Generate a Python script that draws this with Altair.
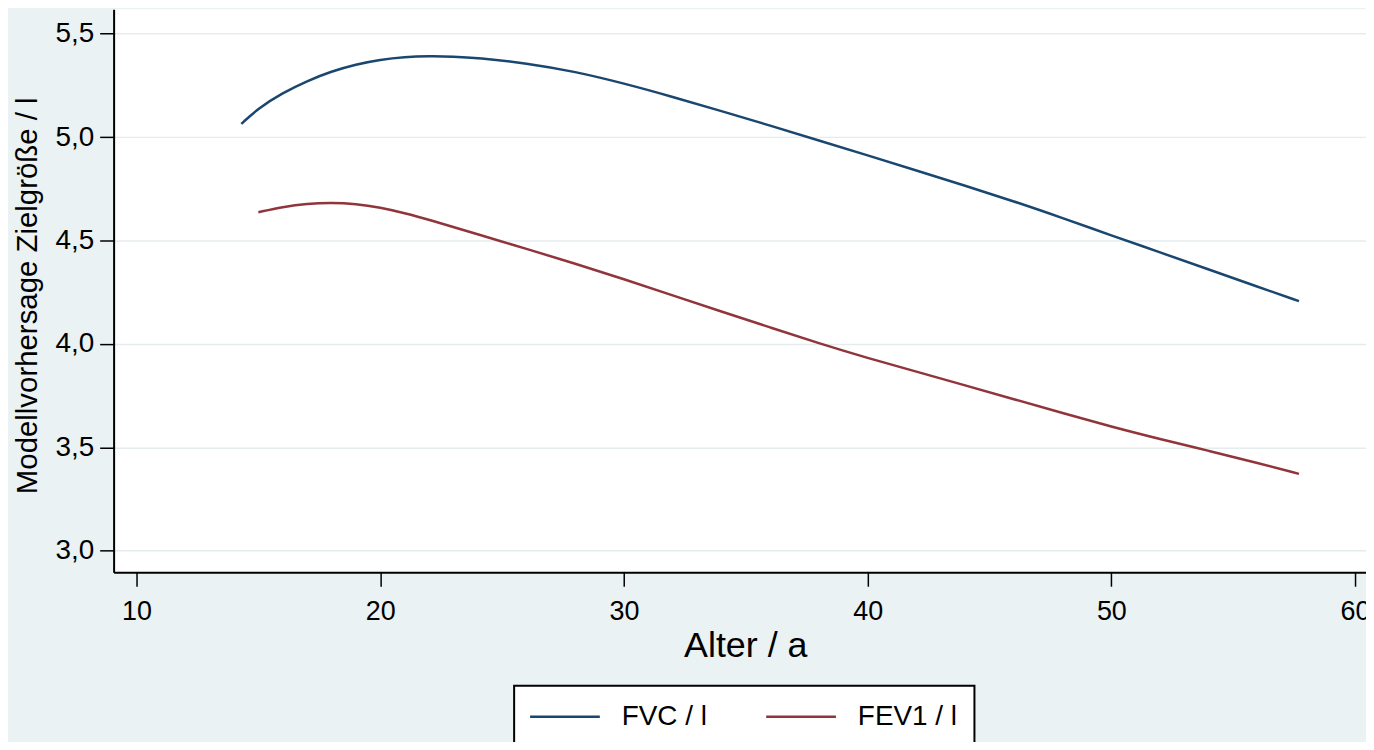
import altair as alt
import pandas as pd

# FVC / l  (model prediction vs. age)
fvc_age = [14.3, 15, 16, 17, 18, 19, 20, 21, 22, 23, 24, 26, 28, 30, 32, 34, 36, 38, 40,
           42, 44, 46, 48, 50, 52, 54, 56, 57.7]
fvc_val = [5.064, 5.140, 5.214, 5.272, 5.318, 5.352, 5.375, 5.388, 5.392, 5.390, 5.383,
           5.358, 5.317, 5.260, 5.195, 5.126, 5.056, 4.984, 4.912, 4.839, 4.765, 4.690,
           4.609, 4.525, 4.443, 4.360, 4.277, 4.207]

# FEV1 / l
fev1_age = [15.0, 16, 17, 18, 19, 20, 21, 22, 24, 26, 28, 30, 32, 34, 36, 38, 40, 42, 44,
            46, 48, 50, 52, 54, 56, 57.7]
fev1_val = [4.637, 4.663, 4.679, 4.684, 4.678, 4.660, 4.633, 4.601, 4.530, 4.460, 4.389,
            4.313, 4.235, 4.157, 4.080, 4.003, 3.932, 3.866, 3.800, 3.733, 3.666, 3.600,
            3.540, 3.483, 3.425, 3.372]

series = ["FVC / l", "FEV1 / l"]
colors = ["#1A476F", "#90353B"]
x_ticks = [10, 20, 30, 40, 50, 60]
y_ticks = [3.0, 3.5, 4.0, 4.5, 5.0, 5.5]

df = pd.concat([
    pd.DataFrame({"age": fvc_age, "value": fvc_val, "series": series[0]}),
    pd.DataFrame({"age": fev1_age, "value": fev1_val, "series": series[1]}),
])

FONT = "Liberation Sans"

chart = alt.Chart(df).mark_line(strokeWidth=2.5, interpolate="basis").encode(
    x=alt.X("age:Q",
            scale=alt.Scale(domain=[9.06, 60.45], nice=False, zero=False),
            axis=alt.Axis(values=x_ticks, grid=False, domainColor="black", domainWidth=2,
                          tickColor="black", tickWidth=1.5, tickSize=14,
                          labelFont=FONT, labelFontSize=27, labelColor="black",
                          labelPadding=12, labelFlush=False,
                          title="Alter / a", titleFont=FONT, titleFontSize=36,
                          titleFontWeight="normal", titleColor="black",
                          titleX=634, titleY=85, titleBaseline="alphabetic")),
    y=alt.Y("value:Q",
            scale=alt.Scale(domain=[2.896, 5.618], nice=False, zero=False),
            axis=alt.Axis(values=y_ticks, domainColor="black", domainWidth=2,
                          tickColor="black", tickWidth=1.5, tickSize=14,
                          labelFont=FONT, labelFontSize=28, labelColor="black",
                          labelPadding=6,
                          labelExpr="replace(format(datum.value, '.1f'), '.', ',')",
                          grid=True, gridColor="#e4ecee", gridWidth=1.5,
                          title="Modellvorhersage Zielgröße / l", titleFont=FONT,
                          titleFontSize=29.5, titleFontWeight="normal", titleColor="black",
                          titleX=-86, titleY=287, titleAngle=270, titleAlign="center",
                          titleBaseline="middle")),
    color=alt.Color("series:N",
                    scale=alt.Scale(domain=series, range=colors),
                    legend=alt.Legend(orient="none", legendX=402, legendY=679,
                                      direction="horizontal", title=None,
                                      fillColor="white", strokeColor="black",
                                      padding=17, symbolType="M-5,0H5", symbolSize=196,
                                      symbolStrokeWidth=2.5, symbolOffset=20,
                                      labelFont=FONT, labelFontSize=28, labelColor="black",
                                      labelOffset=43, columnPadding=54)),
).properties(
    width=1257,
    height=565,
    autosize=alt.AutoSizeParams(type="none"),
    padding={"left": 106, "top": 0, "right": 0, "bottom": 169},
).configure(
    background="#EAF2F3",
).configure_view(
    fill="white",
    strokeWidth=0,
).configure_legend(
    strokeWidth=2,
    cornerRadius=0,
)

chart.save("out.html", embed_options={"renderer": "svg", "actions": False})
